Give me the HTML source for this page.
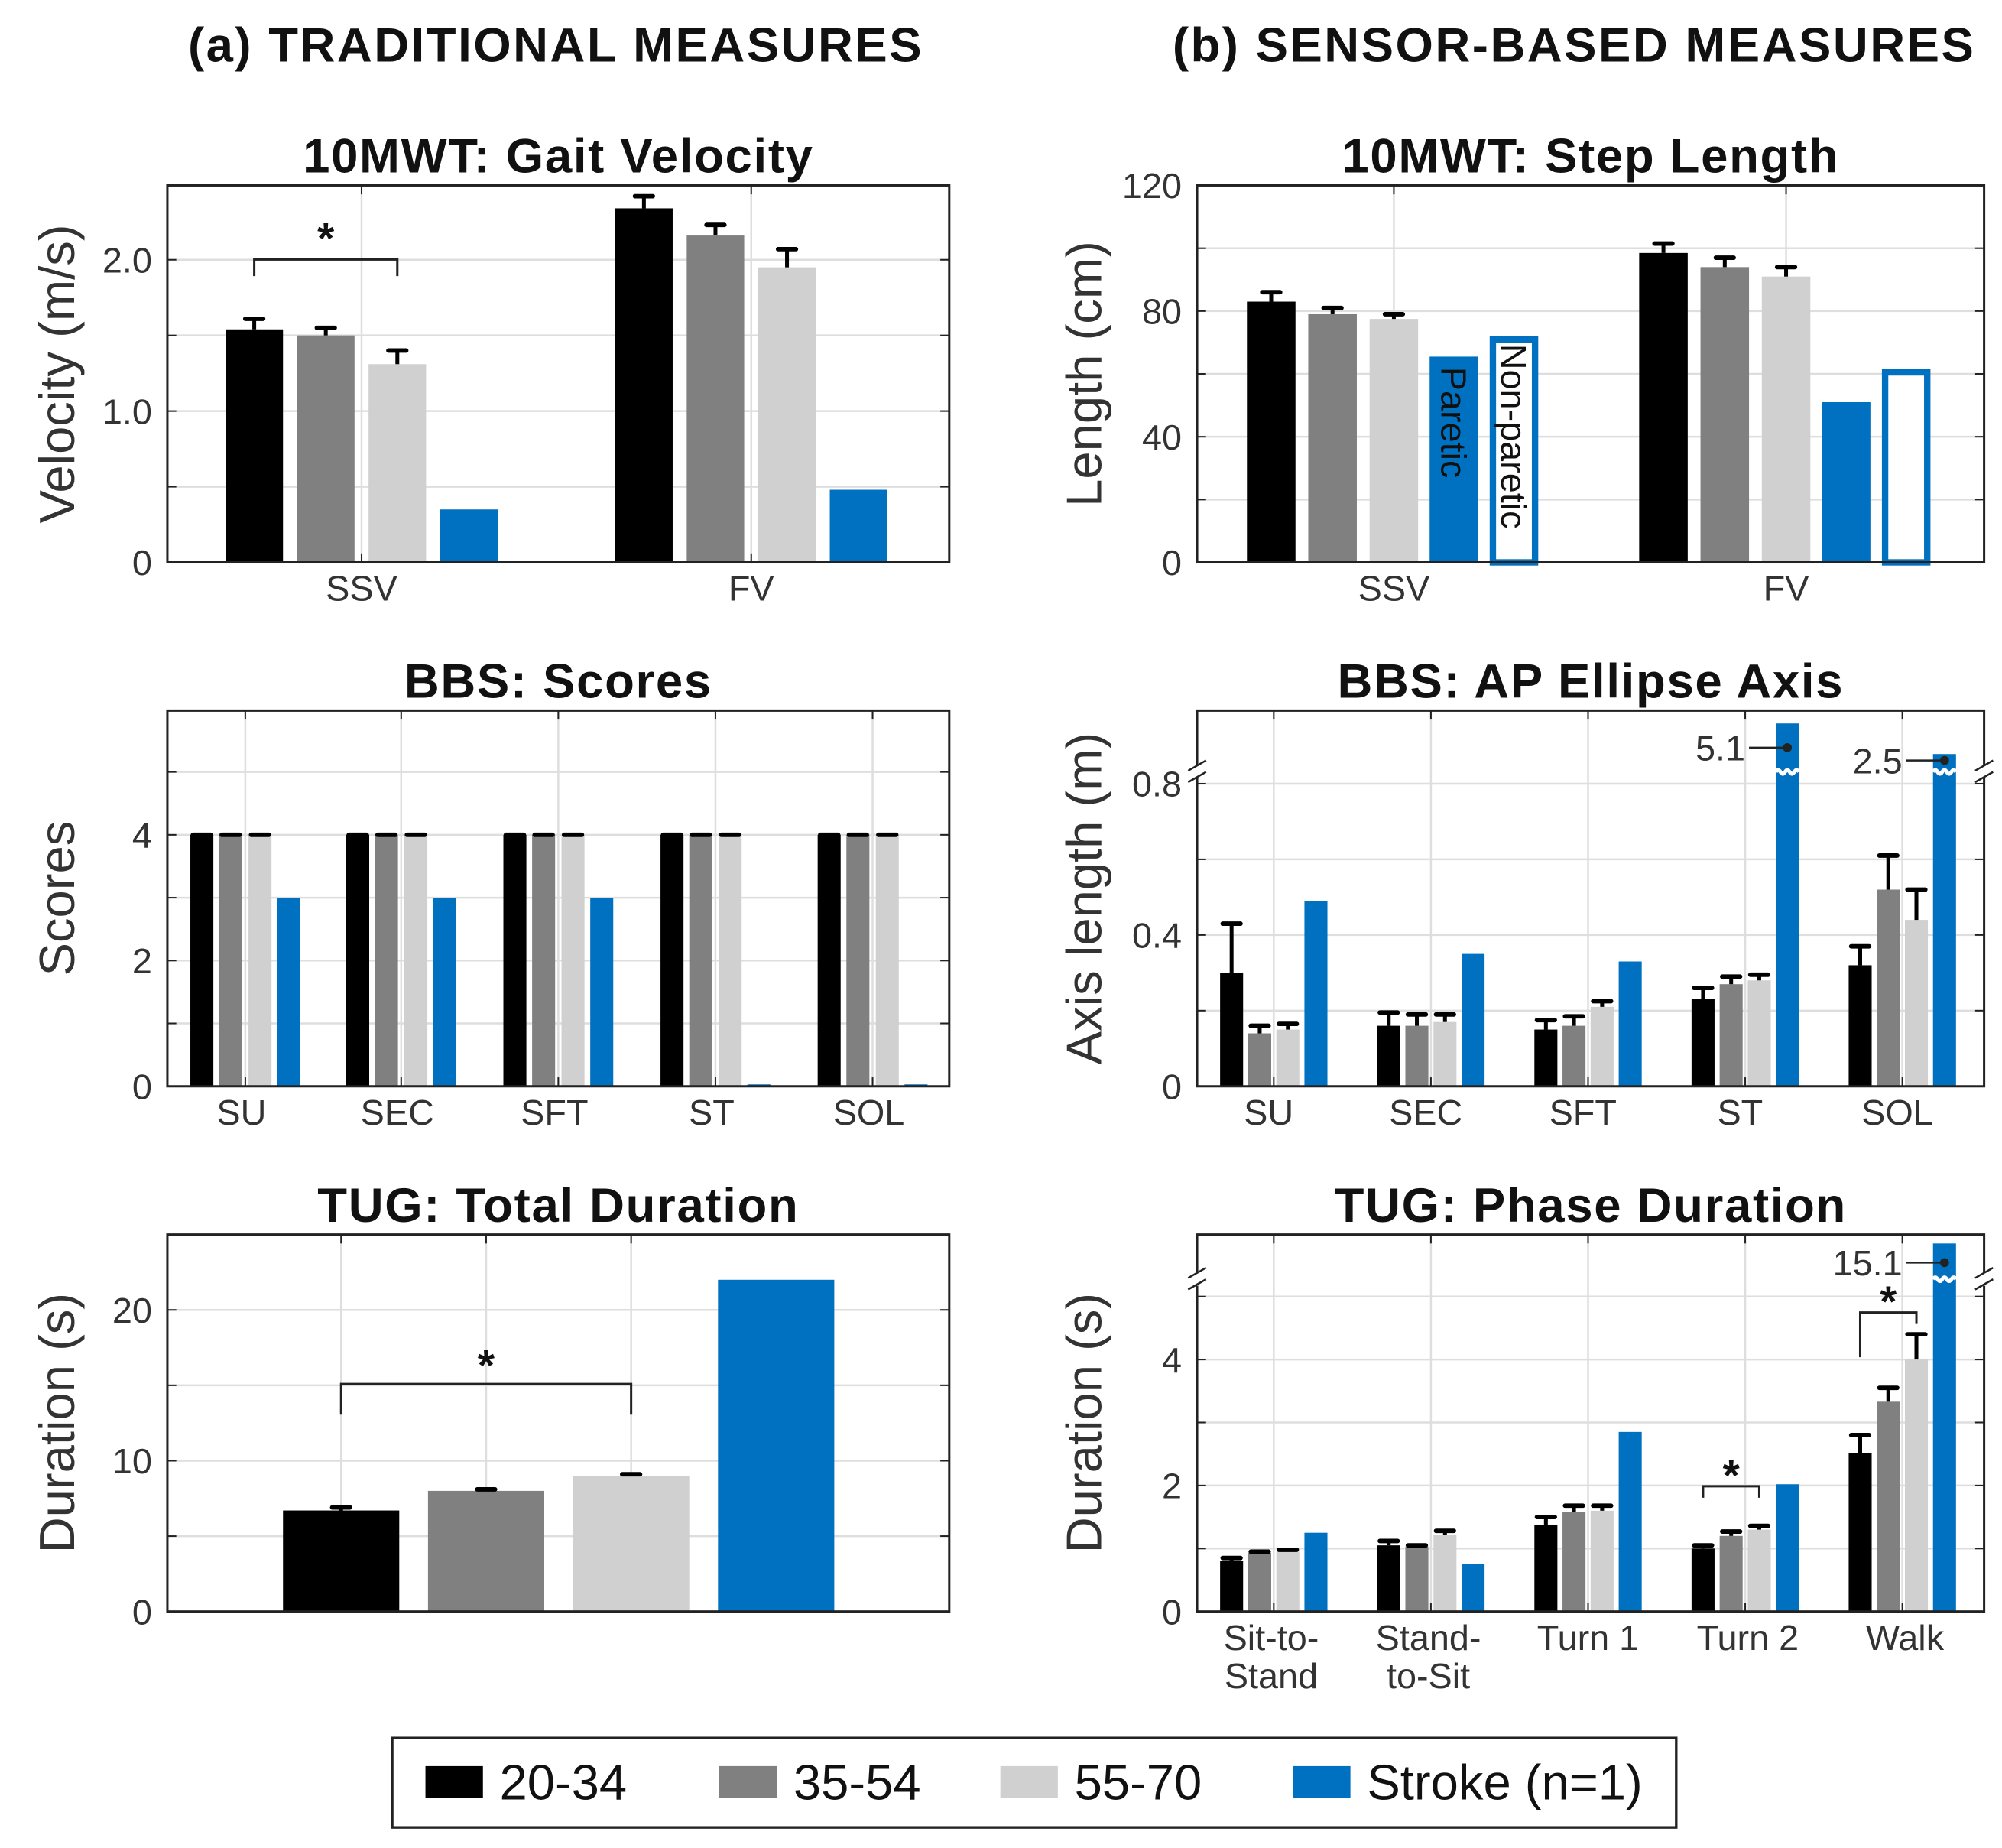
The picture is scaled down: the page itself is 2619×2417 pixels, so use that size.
<!DOCTYPE html>
<html><head><meta charset="utf-8"><style>
html,body{margin:0;padding:0;background:#fff}
svg{display:block}
text{font-family:"Liberation Sans",Arial,sans-serif}
</style></head><body>
<svg id="fig" width="2619" height="2417" viewBox="0 0 1567 1446" xmlns="http://www.w3.org/2000/svg"></svg>
<script>
// ---- data ----
const colors = ['#000000','#808080','#d0d0d0','#0070c0'];
const legendLabels = ['20-34','35-54','55-70','Stroke (n=1)'];

const gvCats = ['SSV','FV'];
const gvVals = [[1.54,1.50,1.31,0.35],[2.34,2.16,1.95,0.48]];
const gvErr  = [[1.61,1.55,1.40,null],[2.42,2.23,2.07,null]];
const gvTicks = [0,1.0,2.0];
const gvTickLabels = ['0','1.0','2.0'];

const slCats = ['SSV','FV'];
const slVals = [[83,79,77.5,65.5,72],[98.5,94,91,51,61.5]];
const slErr  = [[86,81,79,null,null],[101.5,97,94,null,null]];
const slTicks = [0,40,80,120];

const bbsCats = ['SU','SEC','SFT','ST','SOL'];
const bbsVals = [[4,4,4,3],[4,4,4,3],[4,4,4,3],[4,4,4,0],[4,4,4,0]];
const bbsErr  = [[4,4,4,null],[4,4,4,null],[4,4,4,null],[4,4,4,null],[4,4,4,null]];
const bbsTicks = [0,2,4];

const apCats = ['SU','SEC','SFT','ST','SOL'];
const apVals = [[0.30,0.14,0.15,0.49],[0.16,0.16,0.17,0.35],[0.15,0.16,0.21,0.33],[0.23,0.27,0.28,5.1],[0.32,0.52,0.44,2.5]];
const apErr  = [[0.43,0.16,0.165,null],[0.195,0.19,0.19,null],[0.175,0.185,0.225,null],[0.26,0.29,0.295,null],[0.37,0.61,0.52,null]];
const apTicks = [0,0.4,0.8];
const apTickLabels = ['0','0.4','0.8'];

const tugCats = ['','','',''];
const tugVals = [6.7,8.0,9.0,22.0];
const tugErr  = [6.9,8.1,9.1,null];
const tugTicks = [0,10,20];

const phCats = [['Sit-to-','Stand'],['Stand-','to-Sit'],['Turn 1'],['Turn 2'],['Walk']];
const phVals = [[0.80,0.93,0.95,1.25],[1.05,1.03,1.22,0.75],[1.38,1.58,1.60,2.85],[1.00,1.20,1.30,2.02],[2.52,3.33,4.00,15.1]];
const phErr  = [[0.85,0.95,0.98,null],[1.12,1.05,1.28,null],[1.50,1.68,1.68,null],[1.05,1.27,1.36,null],[2.80,3.55,4.40,null]];
const phTicks = [0,2,4];

// ---- helpers ----
const svg = document.getElementById('fig');
const NS = 'http://www.w3.org/2000/svg';
function mk(tag, attrs, parent){
  const e = document.createElementNS(NS, tag);
  for (const k in attrs) e.setAttribute(k, attrs[k]);
  (parent||svg).appendChild(e);
  return e;
}
function txt(s, x, y, size, opts, parent){
  const t = mk('text', Object.assign({x:x, y:y, 'font-size':size, fill:'#222', 'text-anchor':'middle'}, opts||{}), parent);
  t.textContent = s;
  return t;
}

function panel(cfg){
  const g = mk('g', {});
  
  
  const {x0,x1,y0,y1} = cfg;
  const y = cfg.y;
  for (let v = cfg.gridStep; v < cfg.gridMax + 1e-9; v += cfg.gridStep){
    const yy = y(v);
    if (yy <= y0+1) continue;
    const gl = mk('line', {x1:x0, x2:x1, y1:yy, y2:yy, stroke:'#dedede', 'stroke-width':1.5}, g);
    
    
    mk('line', {x1:x0, x2:x0+7, y1:yy, y2:yy, stroke:'#222', 'stroke-width':1.2}, g);
    mk('line', {x1:x1-7, x2:x1, y1:yy, y2:yy, stroke:'#222', 'stroke-width':1.2}, g);
  }
  cfg.vgrid.forEach(xx => {
    const vl = mk('line', {x1:xx, x2:xx, y1:y0, y2:y1, stroke:'#dedede', 'stroke-width':1.5}, g);
    
    
    mk('line', {x1:xx, x2:xx, y1:y0, y2:y0+7, stroke:'#222', 'stroke-width':1.2}, g);
    mk('line', {x1:xx, x2:xx, y1:y1-7, y2:y1, stroke:'#222', 'stroke-width':1.2}, g);
  });
  cfg.bars.forEach(b => {
    const top = y(b.v);
    const r = mk('rect', {x:b.cx - b.w/2, y:Math.min(top, y1-1.5), width:b.w, height:Math.max(y1-top,1.5),
      fill:b.outline ? '#fff' : b.color, stroke:b.outline ? b.color : 'none', 'stroke-width':b.outline?5:0}, g);
    if (b.outline){ r.setAttribute('x', b.cx - b.w/2 + 2.5); r.setAttribute('width', b.w-5); r.setAttribute('y', top+2.5); r.setAttribute('height', y1-top-2.5); }
    
    
    if (b.e != null){
      const ye = y(b.e);
      const el = mk('line', {x1:b.cx, x2:b.cx, y1:top, y2:ye, stroke:'#000', 'stroke-width':3}, g);
      
      
      mk('line', {x1:b.cx-7, x2:b.cx+7, y1:ye, y2:ye, stroke:'#000', 'stroke-width':3.5, 'stroke-linecap':'round'}, g);
    }
    if (cfg.breakY && b.v > cfg.breakV){
      let d = 'M'+(b.cx-b.w/2)+' '+cfg.breakY;
      for (let k=0;k<5;k++){ const xa = b.cx-b.w/2 + (k+0.5)*b.w/5, xb = b.cx-b.w/2+(k+1)*b.w/5; d += ' Q'+xa+' '+(cfg.breakY+(k%2?3:-3))+' '+xb+' '+cfg.breakY; }
      mk('path', {d:d, stroke:'#fff', 'stroke-width':3, fill:'none'}, g);
    }
  });
  const box = mk('rect', {x:x0, y:y0, width:x1-x0, height:y1-y0, fill:'none', stroke:'#222', 'stroke-width':1.8}, g);
  
  
  if (cfg.breakY){
    [x0, x1].forEach(xx => {
      mk('rect', {x:xx-3, y:cfg.breakY-5, width:6, height:10, fill:'#fff'}, g);
      mk('line', {x1:xx-7, x2:xx+7, y1:cfg.breakY-1, y2:cfg.breakY-9, stroke:'#222', 'stroke-width':1.5}, g);
      mk('line', {x1:xx-7, x2:xx+7, y1:cfg.breakY+8, y2:cfg.breakY, stroke:'#222', 'stroke-width':1.5}, g);
    });
  }
  cfg.ticks.forEach((v,i) => {
    const t = txt(cfg.tickLabels ? cfg.tickLabels[i] : String(v), x0-12, y(v)+10, 28, {'text-anchor':'end', fill:'#333'}, g);
    
    
  });
  cfg.xlabels.forEach(l => {
    l.lines.forEach((s,k) => {
      const t = txt(s, l.x, y1+30+k*30, 28, {fill:'#333'}, g);
      
      
    });
  });
  const tt = txt(cfg.title, (x0+x1)/2, y0-10, 38, {'font-weight':'bold', fill:'#111', 'letter-spacing':'1'}, g);
  
  
  const yl = txt(cfg.ylabel, 0, 0, 39, {transform:'translate('+cfg.ylx+','+((y0+y1)/2)+') rotate(-90)', fill:'#333'}, g);
  
  
  return g;
}
function sig(g, xa, xb, yTop, ya, yb, sx, sy){
  const p = mk('path', {d:'M'+xa+' '+ya+' V'+yTop+' H'+xb+' V'+yb, fill:'none', stroke:'#222', 'stroke-width':1.8}, g);
  
  
  const s = txt('*', sx, sy, 34, {'font-weight':'bold', fill:'#111'}, g);
  
  
}

// ---- headings ----
let h = txt('(a)  TRADITIONAL MEASURES', 435, 48, 38, {'font-weight':'bold', fill:'#111', 'xml:space':'preserve', 'letter-spacing':'1.5'});
 
h = txt('(b)  SENSOR-BASED MEASURES', 1232, 48, 38, {'font-weight':'bold', fill:'#111', 'xml:space':'preserve', 'letter-spacing':'1.5'});
 

// ---- panel a1 ----
(function(){
  const y = v => 440 - v*118.4;
  const xc = [283, 588], off = [-84,-28,28,84];
  const bars = [];
  gvCats.forEach((c,i) => gvVals[i].forEach((v,j) => bars.push({cx:xc[i]+off[j], w:45, v:v, e:gvErr[i][j], color:colors[j], name:'bar-'+c.toLowerCase()+'-'+j})));
  const g = panel({name:'gait-velocity-panel', x0:131, x1:743, y0:145, y1:440, y:y, gridStep:0.5, gridMax:2.5,
    vgrid:xc, bars:bars, ticks:gvTicks, tickLabels:gvTickLabels, xlabels:gvCats.map((c,i)=>({x:xc[i], lines:[c]})),
    title:'10MWT: Gait Velocity', ylabel:'Velocity (m/s)', ylx:58});
  sig(g, xc[0]+off[0], xc[0]+off[2], 203, 216, 216, xc[0]-28, 198);
})();

// ---- panel b1 ----
(function(){
  const y = v => 440 - v*2.458;
  const xc = [1091, 1398], off = [-96,-48,0,47,94];
  const bars = [];
  slCats.forEach((c,i) => slVals[i].forEach((v,j) => bars.push({cx:xc[i]+off[j], w:38, v:v, e:slErr[i][j], color:j==4?colors[3]:colors[j], outline:j==4, name:'bar-'+c.toLowerCase()+'-'+j})));
  const g = panel({name:'step-length-panel', x0:937, x1:1553, y0:145, y1:440, y:y, gridStep:20, gridMax:120,
    vgrid:xc, bars:bars, ticks:slTicks, xlabels:slCats.map((c,i)=>({x:xc[i], lines:[c]})),
    title:'10MWT: Step Length', ylabel:'Length (cm)', ylx:862});
  let t = txt('Paretic', 0, 0, 28, {transform:'translate('+(xc[0]+off[3]-10)+','+(y(slVals[0][3])+8)+') rotate(90)', 'text-anchor':'start', fill:'#111'}, g);
   
  t = txt('Non-paretic', 0, 0, 28, {transform:'translate('+(xc[0]+off[4]-10)+','+(y(slVals[0][4])+6)+') rotate(90)', 'text-anchor':'start', fill:'#111'}, g);
   
})();

// ---- panel a2 ----
(function(){
  const y = v => 850 - v*49.2;
  const xc = [192, 314, 437, 560, 683], off = [-34,-11.5,11.5,34];
  const bars = [];
  bbsCats.forEach((c,i) => bbsVals[i].forEach((v,j) => bars.push({cx:xc[i]+off[j], w:18, v:v, e:bbsErr[i][j], color:colors[j], name:'bar-'+c.toLowerCase()+'-'+j})));
  panel({name:'bbs-scores-panel', x0:131, x1:743, y0:556, y1:850, y:y, gridStep:1, gridMax:6,
    vgrid:xc, bars:bars, ticks:bbsTicks, xlabels:bbsCats.map((c,i)=>({x:xc[i]-3, lines:[c]})),
    title:'BBS: Scores', ylabel:'Scores', ylx:58});
})();

// ---- panel b2 ----
(function(){
  const y = v => v <= 0.86 ? 850 - v*296 : 590 - (v-2.5)*9.2;
  const xc = [997, 1120, 1243, 1366, 1489], off = [-33,-11,11,33];
  const bars = [];
  apCats.forEach((c,i) => apVals[i].forEach((v,j) => bars.push({cx:xc[i]+off[j], w:18, v:v, e:apErr[i][j], color:colors[j], name:'bar-'+c.toLowerCase()+'-'+j})));
  const g = panel({name:'ap-ellipse-panel', x0:937, x1:1553, y0:556, y1:850, y:y, gridStep:0.2, gridMax:0.8,
    vgrid:xc, bars:bars, ticks:apTicks, tickLabels:apTickLabels, xlabels:apCats.map((c,i)=>({x:xc[i]-4, lines:[c]})),
    title:'BBS: AP Ellipse Axis', ylabel:'Axis length (m)', ylx:862, breakY:604, breakV:0.86});
  [[3,585],[4,595]].forEach(([i,ly]) => {
    const bx = xc[i]+off[3];
    mk('line', {x1:bx-30, x2:bx, y1:ly, y2:ly, stroke:'#222', 'stroke-width':1.5}, g);
    mk('circle', {cx:bx, cy:ly, r:3.5, fill:'#222'}, g);
    const t = txt(String(apVals[i][3]), bx-33, ly+10, 28, {'text-anchor':'end', fill:'#333'}, g);
     
  });
})();

// ---- panel a3 ----
(function(){
  const y = v => 1261 - v*11.8;
  const xc = [267, 380.5, 494, 607.5];
  const bars = tugVals.map((v,j) => ({cx:xc[j], w:91, v:v, e:tugErr[j], color:colors[j], name:'bar-tug-'+j}));
  const g = panel({name:'tug-total-panel', x0:131, x1:743, y0:966, y1:1261, y:y, gridStep:5, gridMax:25,
    vgrid:xc.slice(0,3), bars:bars, ticks:tugTicks, xlabels:[],
    title:'TUG: Total Duration', ylabel:'Duration (s)', ylx:58});
  sig(g, xc[0], xc[2], 1083, 1107, 1107, xc[1], 1080);
})();

// ---- panel b3 ----
(function(){
  const y = v => v <= 5.4 ? 1261 - v*49.3 : 973 - (v-15.1)*3;
  const xc = [997, 1120, 1243, 1366, 1489], off = [-33,-11,11,33];
  const bars = [];
  phCats.forEach((c,i) => phVals[i].forEach((v,j) => bars.push({cx:xc[i]+off[j], w:18, v:v, e:phErr[i][j], color:colors[j], name:'bar-phase'+i+'-'+j})));
  const g = panel({name:'tug-phase-panel', x0:937, x1:1553, y0:966, y1:1261, y:y, gridStep:1, gridMax:5,
    vgrid:xc, bars:bars, ticks:phTicks, xlabels:phCats.map((c,i)=>({x:[995,1118,1243,1368,1491][i], lines:c})),
    title:'TUG: Phase Duration', ylabel:'Duration (s)', ylx:862, breakY:1001, breakV:5.4});
  const bx = xc[4]+off[3], ly = 988;
  mk('line', {x1:bx-30, x2:bx, y1:ly, y2:ly, stroke:'#222', 'stroke-width':1.5}, g);
  mk('circle', {cx:bx, cy:ly, r:3.5, fill:'#222'}, g);
  const t = txt(String(phVals[4][3]), bx-33, ly+10, 28, {'text-anchor':'end', fill:'#333'}, g);
   
  sig(g, xc[3]+off[0], xc[3]+off[2], 1163, 1172, 1172, xc[3]-11, 1166);
  sig(g, xc[4]+off[0], xc[4]+off[2], 1027, 1062, 1036, xc[4]-11, 1030);
})();

// ---- legend ----
(function(){
  const g = mk('g', {});
  
  
  mk('rect', {x:307, y:1360, width:1005, height:70, fill:'#fff', stroke:'#222', 'stroke-width':2}, g);
  const sx = [333, 563, 783, 1012];
  legendLabels.forEach((l,i) => {
    const e = mk('g', {}, g);
    
    
    mk('rect', {x:sx[i], y:1382, width:45, height:25, fill:colors[i]}, e);
    txt(l, sx[i]+58, 1408, 39, {'text-anchor':'start', fill:'#111'}, e);
  });
})();
</script>
</body></html>
